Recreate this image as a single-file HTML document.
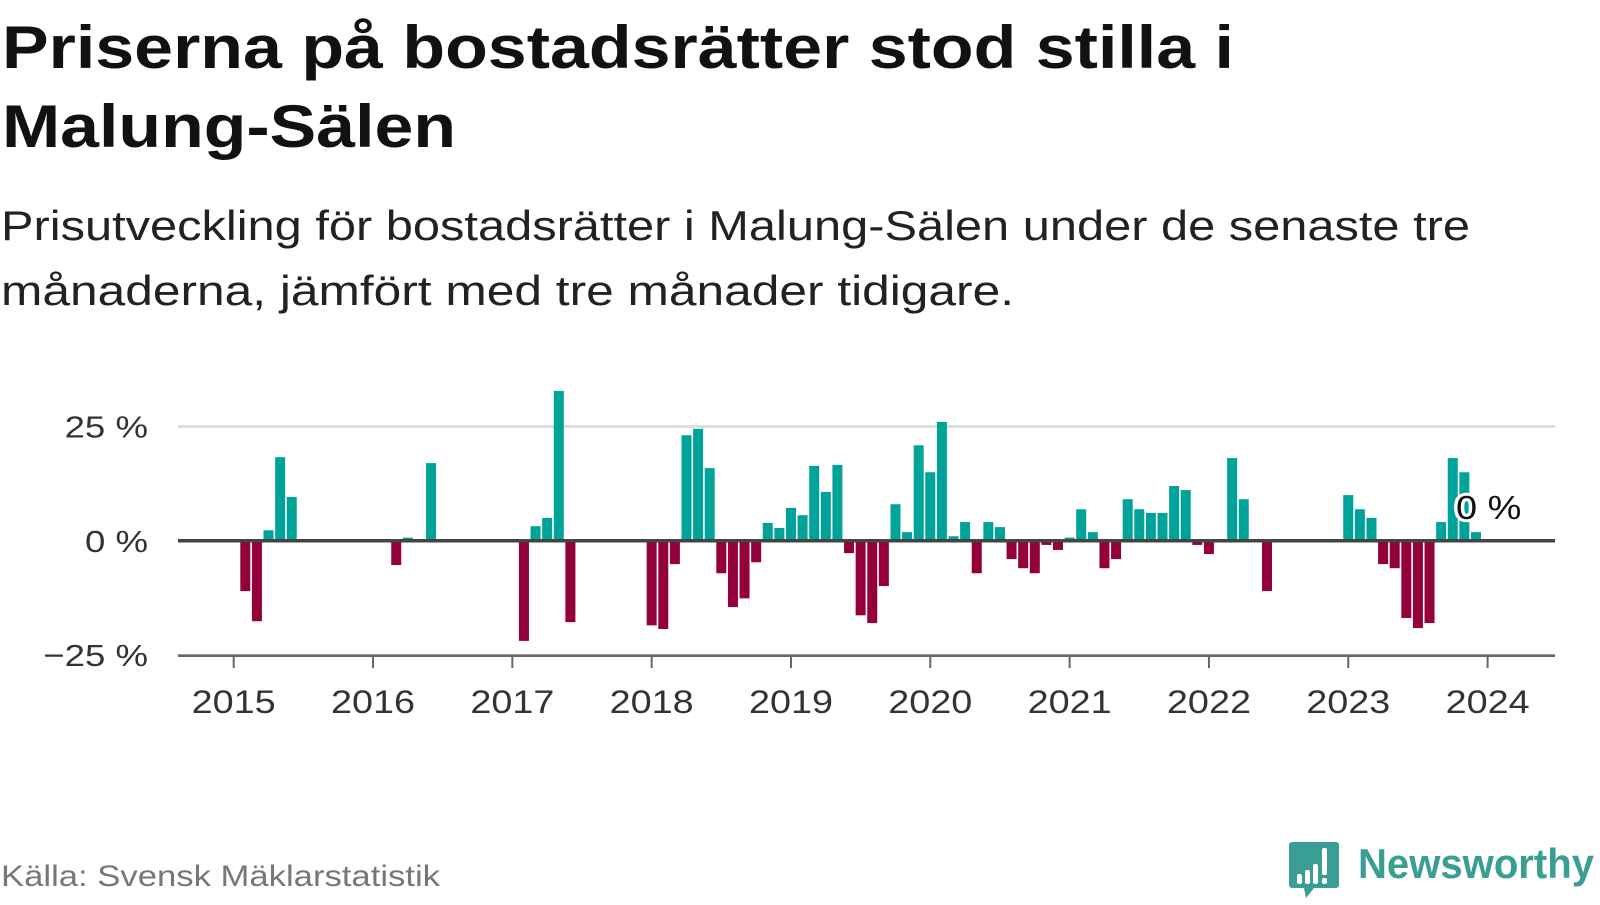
<!DOCTYPE html>
<html><head><meta charset="utf-8"><style>
html,body{margin:0;padding:0;background:#fff;}
body{width:1600px;height:900px;position:relative;overflow:hidden;font-family:"Liberation Sans",sans-serif;color:#111;}
.ln{display:inline-block;transform-origin:0 0;white-space:nowrap;}
#title{position:absolute;left:2px;top:8px;font-size:60px;font-weight:bold;line-height:79px;margin:0;white-space:nowrap;}
#subtitle{position:absolute;left:1px;top:193px;font-size:42px;line-height:65px;margin:0;white-space:nowrap;color:#222;}
#chart{position:absolute;left:0;top:0;}
#source{position:absolute;left:1px;top:860px;font-size:30px;color:#777;white-space:nowrap;}
#logo{position:absolute;left:1288px;top:840px;width:312px;height:60px;}
#logo-text{position:absolute;left:70px;top:0px;font-size:42px;font-weight:bold;color:#3a9e94;}
</style></head><body>
<h1 id="title"><span class="ln" data-w="1232">Priserna på bostadsrätter stod stilla i</span><br><span class="ln" data-w="454">Malung-Sälen</span></h1>
<p id="subtitle"><span class="ln" data-w="1469">Prisutveckling för bostadsrätter i Malung-Sälen under de senaste tre</span><br><span class="ln" data-w="1013">månaderna, jämfört med tre månader tidigare.</span></p>
<svg id="chart" width="1600" height="900"></svg>
<div id="source"><span class="ln" data-w="439">Källa: Svensk Mäklarstatistik</span></div>
<div id="logo">
<svg width="52" height="60"><path d="M4 2h44a3 3 0 0 1 3 3v40a3 3 0 0 1-3 3H26l-8 10-2-10H4a3 3 0 0 1-3-3V5a3 3 0 0 1 3-3z" fill="#3a9e94"/><rect x="9" y="34" width="5" height="10" rx="2" fill="#fff"/><rect x="17" y="30" width="5" height="14" rx="2" fill="#fff"/><rect x="25" y="24" width="5" height="20" rx="2" fill="#fff"/><rect x="34" y="8" width="5" height="27" rx="2" fill="#fff"/><rect x="34" y="38" width="5" height="6" rx="2" fill="#fff"/></svg>
<div id="logo-text"><span class="ln" data-w="236">Newsworthy</span></div>
</div>
<script>
const startYear = 2015;
const values = [null,-11.0,-17.6,2.3,18.3,9.6,null,null,null,null,null,null,
null,null,-5.3,0.7,null,17.0,null,null,null,null,null,null,
null,-21.9,3.2,5.0,32.8,-17.8,null,null,null,null,null,null,
-18.5,-19.3,-5.1,23.1,24.5,15.9,-7.1,-14.5,-12.6,-4.7,3.9,2.8,
7.2,5.6,16.4,10.7,16.6,-2.7,-16.3,-18.0,-9.9,8.0,1.9,20.9,
15.0,26.0,1.0,4.1,-7.1,4.1,3.0,-4.0,-6.0,-7.1,-0.9,-2.0,
0.7,6.9,1.9,-6.0,-4.0,9.1,6.9,6.1,6.1,12.0,11.1,-0.9,
-2.9,null,18.1,9.1,null,-11.0,null,null,null,null,null,null,
10.0,6.9,5.0,-5.1,-6.0,-16.9,-19.1,-18.0,4.1,18.1,15.0,1.9];
const yTicks = [25,0,-25];
const yTickLabels = ["25 %","0 %","\u221225 %"];
const xTickYears = [2015,2016,2017,2018,2019,2020,2021,2022,2023,2024];
const lastLabel = "0 %";

document.querySelectorAll('.ln').forEach(s=>{
  const w=s.getBoundingClientRect().width, t=+s.getAttribute('data-w');
  if(w>0) s.style.transform='scaleX('+(t/w)+')';
});

const svg = document.getElementById('chart');
const NS = 'http://www.w3.org/2000/svg';
const x0 = 233.7, monthW = 11.61, plotL = 178, plotR = 1555;
const zeroY = 540.8, pxPer = 4.57;
const xScale = m => x0 + m * monthW;
const yScale = v => zeroY - v * pxPer;
function mk(tag, attrs){const e=document.createElementNS(NS,tag);for(const k in attrs)e.setAttribute(k,attrs[k]);svg.appendChild(e);return e;}
function widen(t,f,anchor){const w=t.getComputedTextLength();t.setAttribute('textLength',w*f);t.setAttribute('lengthAdjust','spacingAndGlyphs');}

yTicks.forEach((t,i)=>{
  const y=yScale(t);
  if(t!==0){const g=mk('line',{x1:plotL,x2:plotR,y1:y,y2:y,stroke:t<0?'#999':'#ddd','stroke-width':t<0?2:3});
  
  }
  const tx=mk('text',{x:148,y:y+11,'text-anchor':'end','font-size':31,fill:'#333','font-family':'Liberation Sans, sans-serif'});
  tx.textContent=yTickLabels[i];
  
  
  widen(tx,1.18);
});
const axisB = yScale(-25)+1;
const bl=mk('line',{x1:plotL,x2:plotR,y1:axisB,y2:axisB,stroke:'#666','stroke-width':2});


xTickYears.forEach(yr=>{
  const x=xScale((yr-startYear)*12);
  const tk=mk('line',{x1:x,x2:x,y1:axisB,y2:axisB+12,stroke:'#666','stroke-width':2});
  
  
  const tx=mk('text',{x:x,y:axisB+57,'text-anchor':'middle','font-size':32,fill:'#333','font-family':'Liberation Sans, sans-serif'});
  tx.textContent=String(yr);
  
  
  widen(tx,1.18);
});
values.forEach((v,i)=>{
  if(v===null||v===0)return;
  const x=xScale(i), y=yScale(Math.max(v,0)), h=Math.abs(v)*pxPer;
  const r=mk('rect',{x:x-5,y:y,width:10,height:h,fill:v>0?'#00a39a':'#93003a'});
  
  
});
const zl=mk('line',{x1:plotL,x2:plotR,y1:zeroY,y2:zeroY,stroke:'#444','stroke-width':3.5});


const ll=mk('text',{x:1456,y:519,'font-size':33,fill:'#111',stroke:'#fff','stroke-width':6,'paint-order':'stroke','font-family':'Liberation Sans, sans-serif'});
ll.textContent=lastLabel;


widen(ll,1.15);
</script>
</body></html>
